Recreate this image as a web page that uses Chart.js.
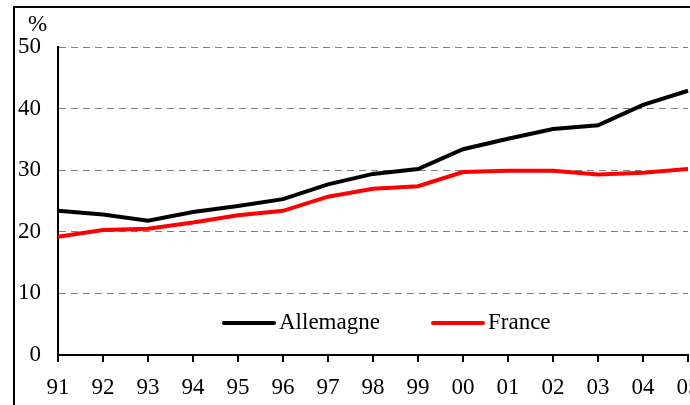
<!DOCTYPE html>
<html>
<head>
<meta charset="utf-8">
<script src="https://cdn.jsdelivr.net/npm/chart.js@4"></script>
<style>
    html, body { margin: 0; padding: 0; background: #fff; }
    #wrap { width: 690px; height: 405px; }
</style>
</head>
<body>
<div id="wrap"><canvas id="chart" width="690" height="405"></canvas></div>
<script>
const years = ['91', '92', '93', '94', '95', '96', '97', '98', '99', '00', '01', '02', '03', '04', '05'];
const allemagne = [23.4, 22.8, 21.8, 23.2, 24.2, 25.3, 27.7, 29.4, 30.2, 33.4, 35.1, 36.7, 37.3, 40.6, 42.9];
const france = [19.2, 20.3, 20.5, 21.5, 22.7, 23.4, 25.7, 27.0, 27.4, 29.7, 29.9, 29.9, 29.3, 29.6, 30.2];
const yTicks = [0, 10, 20, 30, 40, 50];

const FONT = "'Liberation Serif', 'Times New Roman', serif";
const FONT_SIZE = 23;

// frame, "%" unit and the legend inside the plot
const decorations = {
    id: 'decorations',
    afterDraw(chart) {
        const ctx = chart.ctx;
        ctx.save();
        ctx.strokeStyle = '#000';
        ctx.lineWidth = 2;
        ctx.beginPath();
        ctx.moveTo(14, 405);
        ctx.lineTo(14, 7);
        ctx.lineTo(690, 7);
        ctx.stroke();

        ctx.fillStyle = '#000';
        ctx.font = FONT_SIZE + 'px ' + FONT;
        ctx.textBaseline = 'alphabetic';
        ctx.textAlign = 'left';
        ctx.fillText('%', 28, 31);

        // legend
        const items = [
            { ds: chart.data.datasets[0], x: 224, w: 50 },
            { ds: chart.data.datasets[1], x: 433, w: 50 }
        ];
        const y = 323;
        items.forEach(it => {
            ctx.strokeStyle = it.ds.borderColor;
            ctx.lineWidth = 4;
            ctx.lineCap = 'round';
            ctx.beginPath();
            ctx.moveTo(it.x, y);
            ctx.lineTo(it.x + it.w, y);
            ctx.stroke();
            ctx.fillStyle = '#000';
            ctx.fillText(it.ds.label, it.x + it.w + 5, 329);
        });
        ctx.restore();
    }
};

new Chart(document.getElementById('chart'), {
    type: 'line',
    data: {
        labels: years,
        datasets: [
            {
                label: 'Allemagne',
                data: allemagne,
                borderColor: '#000000',
                borderWidth: 4,
                pointRadius: 0,
                tension: 0
            },
            {
                label: 'France',
                data: france,
                borderColor: '#ff0000',
                borderWidth: 4,
                pointRadius: 0,
                tension: 0
            }
        ]
    },
    options: {
        responsive: false,
        animation: false,
        layout: { padding: { left: 0, right: 2, top: 47, bottom: 0 } },
        plugins: {
            legend: { display: false },
            tooltip: { enabled: false }
        },
        scales: {
            x: {
                type: 'category',
                offset: false,
                grid: {
                    display: true,
                    drawOnChartArea: false,
                    drawTicks: true,
                    tickLength: 7,
                    color: '#000',
                    lineWidth: 2
                },
                border: { display: true, color: '#000', width: 2 },
                ticks: {
                    color: '#000',
                    font: { family: FONT, size: FONT_SIZE },
                    padding: 12,
                    maxRotation: 0,
                    autoSkip: false
                },
                afterFit(scale) {
                    scale.height = 50;
                    scale.paddingLeft = 0;
                    scale.paddingRight = 0;
                }
            },
            y: {
                min: 0,
                max: 50,
                afterBuildTicks(scale) {
                    scale.ticks = yTicks.map(v => ({ value: v }));
                },
                grid: {
                    display: true,
                    drawTicks: false,
                    color: ctx => ctx.tick && ctx.tick.value === 0 ? 'rgba(0,0,0,0)' : '#7f7f7f',
                    lineWidth: 1
                },
                border: { display: true, color: '#000', width: 2, dash: [7, 5] },
                ticks: {
                    color: '#000',
                    font: { family: FONT, size: FONT_SIZE },
                    padding: 17
                },
                afterFit(scale) {
                    scale.width = 58;
                    scale.paddingTop = 0;
                    scale.paddingBottom = 0;
                }
            }
        }
    },
    plugins: [decorations]
});
</script>
</body>
</html>
